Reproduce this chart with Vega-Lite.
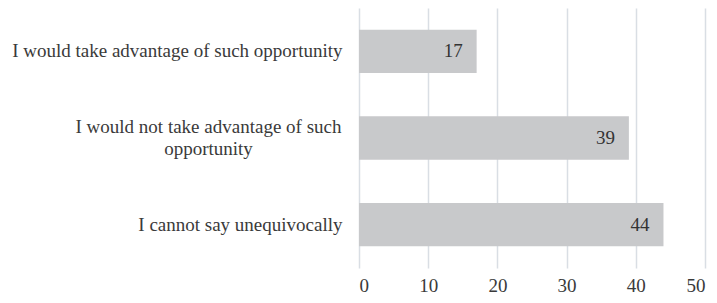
{
  "$schema": "https://vega.github.io/schema/vega-lite/v6.json",
  "autosize": {"type": "none"},
  "padding": {"left": 359, "top": 8, "right": 12, "bottom": 35},
  "width": 346,
  "height": 260,
  "background": "white",
  "config": {"view": {"stroke": null}, "font": "Liberation Serif, Times New Roman, serif"},
  "data": {"values": [
    {"answer": "I would take advantage of such opportunity", "value": 17},
    {"answer": "I would not take advantage of such opportunity", "value": 39},
    {"answer": "I cannot say unequivocally", "value": 44}
  ]},
  "encoding": {
    "y": {"field": "answer", "type": "nominal", "sort": null,
      "scale": {"paddingInner": 0.5, "paddingOuter": 0.25},
      "axis": {"title": null, "ticks": false, "domain": false,
        "labelFont": "Liberation Serif, Times New Roman, serif", "labelFontSize": 19, "labelColor": "#3a3a3a",
        "labelLimit": 400, "labelLineHeight": 22,
        "labelExpr": "datum.value == 'I would not take advantage of such opportunity' ? ['I would not take advantage of such', 'opportunity'] : datum.value",
        "labelAlign": {"condition": {"test": "datum.value == 'I would not take advantage of such opportunity'", "value": "center"}, "value": "right"},
        "labelPadding": {"condition": {"test": "datum.value == 'I would not take advantage of such opportunity'", "value": 151}, "value": 17},
        "labelOffset": {"condition": {"test": "datum.value == 'I would not take advantage of such opportunity'", "value": -11}, "value": 0}
      }},
    "x": {"field": "value", "type": "quantitative",
      "scale": {"domain": [0, 50]},
      "axis": {"title": null, "values": [0, 10, 20, 30, 40, 50], "ticks": false, "domain": false,
        "grid": true, "gridColor": "#d9dee4", "gridWidth": 1.5,
        "labelFont": "Liberation Serif, Times New Roman, serif", "labelFontSize": 19, "labelColor": "#3a3a3a", "labelPadding": 8}}
  },
  "layer": [
    {"mark": {"type": "bar", "color": "#c8c9cb"}},
    {"mark": {"type": "text", "align": "right", "dx": -14, "font": "Liberation Serif, Times New Roman, serif", "fontSize": 19, "color": "#333333"},
     "encoding": {"text": {"field": "value", "type": "quantitative"}}}
  ]
}
